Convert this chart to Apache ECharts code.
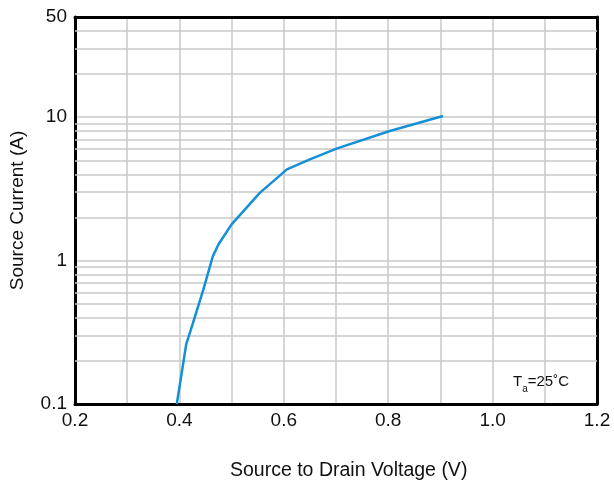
<!DOCTYPE html>
<html>
<head>
<meta charset="utf-8">
<script src="https://cdn.jsdelivr.net/npm/echarts@6/dist/echarts.min.js"></script>
<style>
html,body{margin:0;padding:0;background:#fff;}
#chart{width:614px;height:486px;}
</style>
</head>
<body>
<div id="chart"></div>
<script>
// Data
var voltage = [0.395, 0.413, 0.422, 0.446, 0.464, 0.475, 0.500, 0.554, 0.606, 0.650, 0.701, 0.803, 0.905];
var current = [0.10, 0.26, 0.33, 0.63, 1.07, 1.30, 1.79, 2.97, 4.33, 5.08, 6.04, 8.02, 10.2];

var xTickLabels = ['0.2', '0.4', '0.6', '0.8', '1.0', '1.2'];
var yTickLabels = ['0.1', '1', '10', '50'];
var yMinorGrid = [0.2, 0.3, 0.4, 0.5, 0.6, 0.7, 0.8, 0.9, 2, 3, 4, 5, 6, 7, 8, 9, 20, 30, 40];

var xName = 'Source to Drain Voltage (V)';
var yName = 'Source Current (A)';

var font = 'Liberation Sans, Arial, sans-serif';
var gridColor = '#c8c8c8';

function fmtX(v) {
  for (var i = 0; i < xTickLabels.length; i++) {
    if (Math.abs(parseFloat(xTickLabels[i]) - v) < 1e-6) return xTickLabels[i];
  }
  return '';
}
function fmtY(v) {
  for (var i = 0; i < yTickLabels.length; i++) {
    var t = parseFloat(yTickLabels[i]);
    if (Math.abs(t - v) / t < 1e-4) return yTickLabels[i];
  }
  return '';
}

var chart = echarts.init(document.getElementById('chart'));
var option = {
  animation: false,
  grid: { left: 75, right: 17, top: 17, bottom: 82, containLabel: false, outerBoundsMode: 'none' },
  xAxis: [{
    type: 'value', min: 0.2, max: 1.2, interval: 0.1, position: 'bottom',
    axisLine: { show: true, onZero: false, lineStyle: { color: '#000', width: 3 } },
    axisTick: { show: false },
    axisLabel: { formatter: fmtX, color: '#111', fontSize: 19, fontFamily: font, margin: 7, showMinLabel: true, showMaxLabel: true },
    splitLine: { show: true, lineStyle: { color: gridColor, width: 1.5 } }
  }, {
    type: 'value', min: 0.2, max: 1.2, interval: 0.1, position: 'top',
    axisLine: { show: true, onZero: false, lineStyle: { color: '#000', width: 3 } },
    axisTick: { show: false }, axisLabel: { show: false }, splitLine: { show: false }
  }],
  yAxis: [{
    type: 'log', logBase: 10, min: 0.1, max: 50, position: 'left',
    axisLine: { show: true, onZero: false, lineStyle: { color: '#000', width: 3 } },
    axisTick: { show: false },
    axisLabel: { formatter: fmtY, color: '#111', fontSize: 19, fontFamily: font, margin: 8, showMinLabel: true, showMaxLabel: true },
    splitLine: { show: true, lineStyle: { color: gridColor, width: 1.5 } },
    name: yName, nameLocation: 'middle', nameGap: 48, nameRotate: 90,
    nameTextStyle: { color: '#111', fontSize: 19, fontFamily: font }
  }, {
    type: 'log', logBase: 10, min: 0.1, max: 50, position: 'right',
    axisLine: { show: true, onZero: false, lineStyle: { color: '#000', width: 3 } },
    axisTick: { show: false }, axisLabel: { show: false }, splitLine: { show: false }
  }],
  series: [{
    type: 'line', xAxisIndex: 0, yAxisIndex: 0, z: 1,
    data: [], silent: true,
    markLine: {
      silent: true, symbol: ['none', 'none'], animation: false,
      label: { show: false },
      lineStyle: { color: gridColor, width: 1.5, type: 'solid' },
      emphasis: { disabled: true },
      data: yMinorGrid.map(function (v) { return { yAxis: v }; })
    }
  }, {
    type: 'line', xAxisIndex: 0, yAxisIndex: 0, z: 5,
    data: voltage.map(function (v, i) { return [v, current[i]]; }),
    showSymbol: false, smooth: false,
    lineStyle: { color: '#1490d8', width: 2.5 },
    itemStyle: { color: '#1490d8' }
  }],
  graphic: [{
    type: 'text', left: 230, top: 461,
    style: { text: xName, fill: '#111', font: '19.5px ' + font }
  }, {
    type: 'text', left: 513, top: 374,
    style: {
      text: '{t|T}{s|a}{t|=25˚C}',
      rich: {
        t: { fontSize: 15, fontFamily: font, fill: '#111', verticalAlign: 'bottom' },
        s: { fontSize: 10, fontFamily: font, fill: '#111', verticalAlign: 'bottom', padding: [0, 0, -5, 0] }
      }
    }
  }]
};
chart.setOption(option);
</script>
</body>
</html>
